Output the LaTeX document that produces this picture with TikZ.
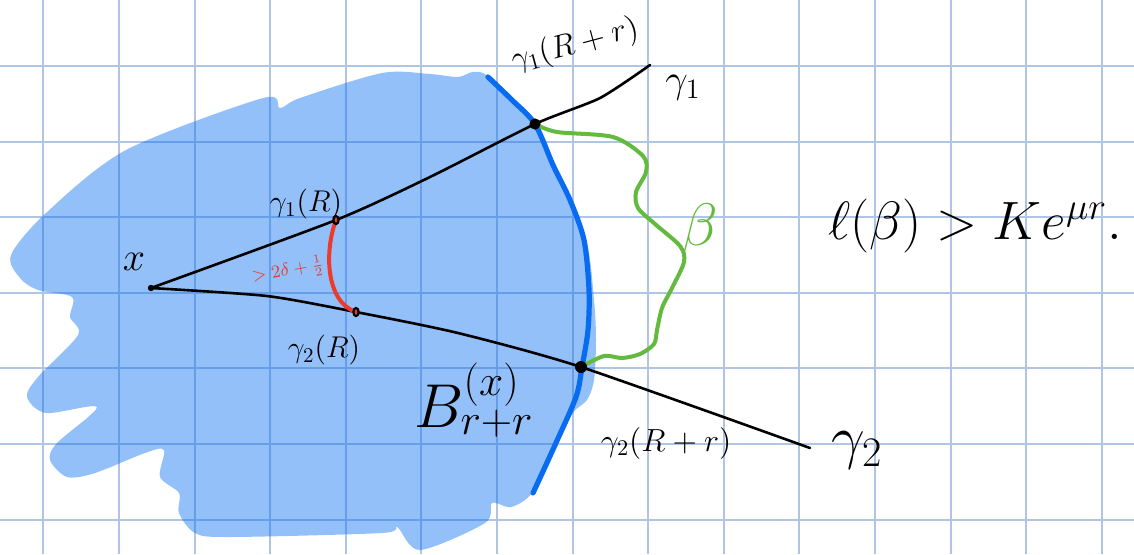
\RequirePackage{fix-cm}
\documentclass[tikz,border=0pt]{standalone}
\definecolor{gridblue}{RGB}{176,196,228}
\definecolor{blobblue}{RGB}{0,107,243}
\definecolor{ballblue}{RGB}{8,108,240}
\definecolor{betagreen}{RGB}{100,186,62}
\definecolor{arcred}{RGB}{236,58,43}
\tikzset{
  gridline/.style={draw=gridblue, line width=1pt},
  blob/.style={fill=blobblue, fill opacity=0.42},
  ballline/.style={draw=ballblue, line width=2.6pt, line cap=round},
  geo/.style={draw=black, line width=1.3pt, line cap=round},
  betacurve/.style={draw=betagreen, line width=2pt, line cap=round},
  arc/.style={draw=arcred, line width=2pt, line cap=round},
  marker/.style={draw=black, line width=1.1pt},
  lbl/.style={font=\fontsize{#1}{#1}\selectfont, inner sep=0pt}
}
\begin{document}
\begin{tikzpicture}[x=0.5pt,y=-0.5pt]
\useasboundingbox (0,0) rectangle (1134,554);
\fill[white] (0,0) rectangle (1134,554);

\foreach \i in {0,...,14}
  \draw[gridline] ({43.3+75.6*\i},0) -- ({43.3+75.6*\i},554);
\foreach \j in {0,...,6}
  \draw[gridline] (0,{66+75.6*\j}) -- (1134,{66+75.6*\j});

\fill[blob] plot[smooth cycle, tension=0.5] coordinates {
  (11,255) (46,213) (126,150) (263,98) (280,108) (300,98) (382,73)
  (430,74) (458,77) (473,72) (489,77) (535,123) (556,168) (586,240)
  (594,300) (596,340) (594,380) (587,400) (573,413) (553,450) (532,493)
  (511,507) (492,503) (485,523) (420,550) (397,527) (382,533) (229,537)
  (195,533) (179,513) (179,493) (160,477) (164,450) (145,453) (95,473)
  (67,477) (50,460) (57,443) (97,407) (46,413) (27,397) (38,377) (78,335)
  (70,317) (72,297) (38,290) (20,278)};

\draw[ballline] plot[smooth] coordinates {
  (488,77) (512,100) (535,124) (553,165) (570,200) (584,240) (589,290)
  (588,330) (582,367) (576,397) (555,445) (533,493)};

\coordinate (x0) at (151,288);
\coordinate (g1R) at (336,220);
\coordinate (g1Rr) at (535,124);
\coordinate (g1end) at (650,65);
\coordinate (g2R) at (356,312);
\coordinate (g2Rr) at (581,367);
\coordinate (g2end) at (810,448);

\draw[geo] plot[smooth, tension=0.4] coordinates {(x0) (g1R) (430,177) (g1Rr) (600,98) (g1end)};
\draw[geo] plot[smooth, tension=0.4] coordinates {(x0) (267,296) (g2R) (458,333) (g2Rr) (g2end)};

\draw[arc] (g1R) .. controls (324,252) and (326,302) .. (g2R);

\draw[betacurve] plot[smooth] coordinates {(g1Rr) (557,132) (613,137) (643,156)
  (646,172) (636,192) (638,208) (655,224) (680,246) (684,262) (672,288)
  (662,308) (657,330) (654,344) (640,354) (622,358) (604,356) (g2Rr)};

\fill (x0) circle (1.6pt);
\fill (g1Rr) circle (2.8pt);
\fill (g2Rr) circle (3pt);
\draw[marker] (g1R) ellipse [x radius=1.3pt, y radius=2pt];
\draw[marker] (g2R) ellipse [x radius=1.3pt, y radius=2pt];

\node[lbl=20] (xlbl) at (134,262) {$x$};
\node[lbl=15] (g1Rlbl) at (306,204) {$\gamma_1(R)$};
\node[lbl=15] (g2Rlbl) at (324,350) {$\gamma_2(R)$};
\node[lbl=16, rotate=15] (g1Rrlbl) at (575,45) {$\gamma_1(R+r)$};
\node[lbl=16] (g2Rrlbl) at (666,443) {$\gamma_2(R+r)$};
\node[lbl=20] (g1lbl) at (683,88) {$\gamma_1$};
\node[lbl=30] (g2lbl) at (857,450) {$\gamma_2$};
\node[lbl=31] (balllbl) at (474,400) {$B^{(x)}_{r+r}$};
\node[lbl=30, text=betagreen] (betalbl) at (700,230) {$\beta$};
\node[lbl=27] (ineq) at (975,226) {$\ell(\beta)>Ke^{\mu r}.$};
\node[lbl=9, text=arcred, rotate=10] (distlbl) at (288,271) {$>2\delta+\frac{1}{2}$};

\end{tikzpicture}
\end{document}
